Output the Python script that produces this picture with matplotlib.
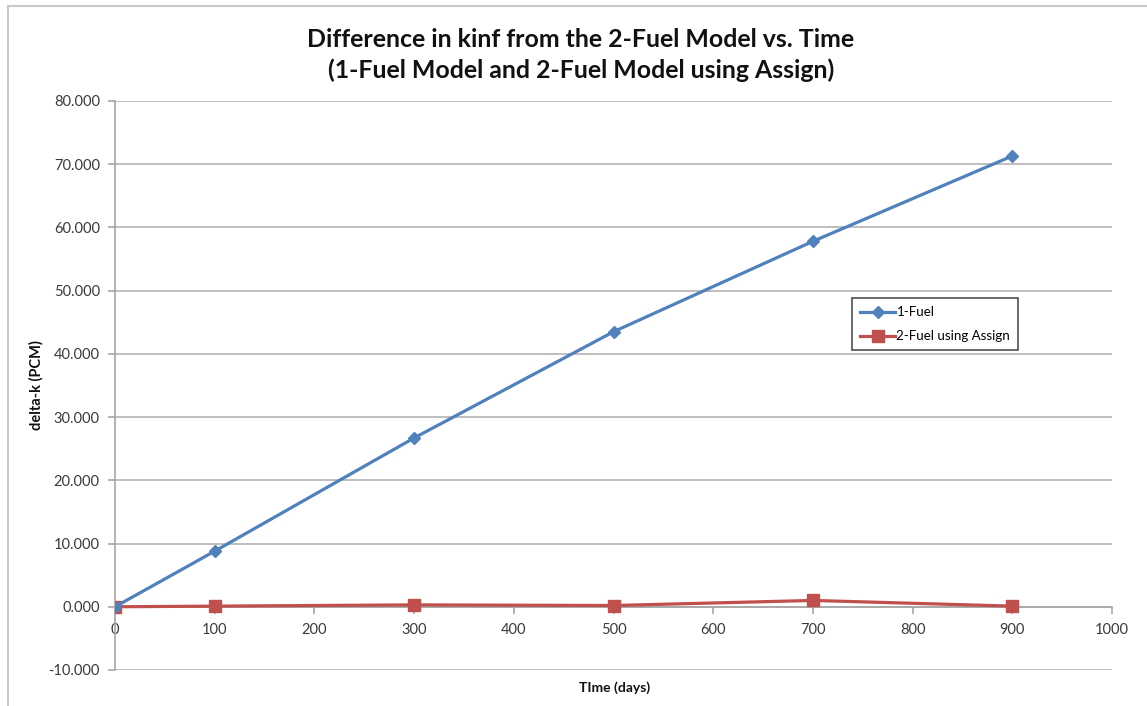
import matplotlib
matplotlib.use("Agg")
import matplotlib.pyplot as plt
from matplotlib.patches import Rectangle

# Burnup time points (days) and kinf differences (pcm) relative to the 2-fuel model
time_days = [0, 100, 300, 500, 700, 900]
one_fuel = [0.0, 8.8, 26.7, 43.5, 57.8, 71.3]
two_fuel_assign = [0.0, 0.1, 0.3, 0.2, 1.0, 0.1]

series_labels = ["1-Fuel", "2-Fuel using Assign"]
title_text = "Difference in kinf from the 2-Fuel Model vs. Time\n(1-Fuel Model and 2-Fuel Model using Assign)"
x_label = "TIme (days)"
y_label = "delta-k (PCM)"

plt.rcParams["font.family"] = ["Lato", "DejaVu Sans"]

fig = plt.figure(figsize=(11.47, 7.06), dpi=100)
ax = fig.add_axes([0.1003, 0.051, 0.8692, 0.806])

# Outer chart frame
fig.patches.append(Rectangle((8 / 1147, -0.02), 1.2, 1 - 6 / 706 + 0.02,
                             transform=fig.transFigure, fill=False,
                             edgecolor="#c8c8c8", linewidth=1.5, zorder=0))

blue = "#4F81BD"
red = "#C0504D"
ax.plot(time_days, one_fuel, color=blue, linewidth=2.3, marker="D",
        markersize=6.5, label=series_labels[0], zorder=4)
ax.plot(time_days, two_fuel_assign, color=red, linewidth=2.3, marker="s",
        markersize=8.5, label=series_labels[1], zorder=3)

ax.set_xlim(0, 1000)
ax.set_ylim(-10, 80)
ax.set_xticks(range(0, 1001, 100))
ax.set_yticks(range(-10, 81, 10))
ax.set_yticklabels([f"{v:.3f}" for v in range(-10, 81, 10)])

ax.grid(axis="y", color="#b3b3b3", linewidth=1.2)
ax.set_axisbelow(True)
for s in ["top", "right"]:
    ax.spines[s].set_visible(False)
ax.spines["bottom"].set_position(("data", 0))
ax.spines["bottom"].set_color("#a6a6a6")
ax.spines["bottom"].set_linewidth(1.2)
ax.spines["left"].set_color("#a6a6a6")
ax.spines["left"].set_linewidth(1.2)
ax.tick_params(axis="both", colors="#a6a6a6", labelcolor="#3a3a3a",
               labelsize=10.5, length=5, width=1.2, direction="out")
ax.tick_params(axis="x", pad=7)
ax.tick_params(axis="y", pad=6)

ax.set_xlabel(x_label, fontsize=10, fontweight="bold", color="#111111")
ax.xaxis.set_label_coords(0.5015, -0.02)
ax.set_ylabel(y_label, fontsize=10.5, fontweight="bold", color="#111111")
ax.yaxis.set_label_coords(-0.072, 0.5)

fig.text(0.5065, 0.922, title_text, ha="center", va="center",
         fontsize=17.9, fontweight="bold", color="#111111", linespacing=1.4)

leg = ax.legend(loc="upper left", bbox_to_anchor=(0.733, 0.665), fontsize=9.6,
                frameon=True, fancybox=False, edgecolor="#222222",
                borderpad=0.6, handlelength=2.6, labelspacing=0.9,
                handletextpad=0.1)
leg.get_frame().set_linewidth(1.2)

fig.savefig("out.png", dpi=100, facecolor="white")
